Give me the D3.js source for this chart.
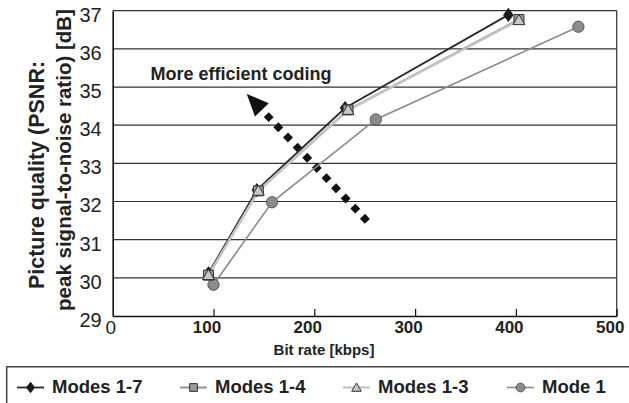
<!DOCTYPE html>
<html>
<head>
<meta charset="utf-8">
<script src="https://cdn.jsdelivr.net/npm/d3@7"></script>
<style>
  body { margin: 0; background: #fff; }
  text { font-family: "Liberation Sans", Arial, sans-serif; }
</style>
</head>
<body>
<div id="chart"></div>
<script>
var width = 629, height = 403;

// series
var seriesNames = ['Modes 1-7', 'Modes 1-4', 'Modes 1-3', 'Mode 1'];
var bitrate17 = [95, 143, 230.5, 392.5],  psnr17 = [30.12, 32.3, 34.45, 36.89];
var bitrate14 = [95, 144.5, 233.5, 403],  psnr14 = [30.07, 32.28, 34.4, 36.77];
var bitrate13 = [95, 144.5, 233.5, 403],  psnr13 = [30.07, 32.28, 34.4, 36.75];
var bitrate1  = [100, 158, 261, 462],     psnr1  = [29.82, 31.98, 34.15, 36.58];

var xTicks = [100, 200, 300, 400, 500];
var yTicks = [29, 30, 31, 32, 33, 34, 35, 36, 37];

// annotation arrow, tail -> tip in data units
var arrowFrom = [252.6, 31.48], arrowTo = [133, 34.82];

var x = d3.scaleLinear().domain([0, 500]).range([112.7, 616.7]);
var y = d3.scaleLinear().domain([29, 37]).range([316, 10.7]);

var svg = d3.select('#chart').append('svg')
  .attr('width', width).attr('height', height);

// gridlines
svg.append('g').selectAll('line').data(yTicks.slice(1)).enter().append('line')
  .attr('x1', x(0)).attr('x2', x(500))
  .attr('y1', d => y(d)).attr('y2', d => y(d))
  .attr('stroke', '#333').attr('stroke-width', 1.2);

// right border
svg.append('line')
  .attr('x1', x(500)).attr('x2', x(500)).attr('y1', y(37)).attr('y2', y(29))
  .attr('stroke', '#333').attr('stroke-width', 1.2);

// axes
var xAxis = svg.append('g').attr('transform', 'translate(0,' + y(29) + ')')
  .call(d3.axisBottom(x).tickValues(xTicks).tickSizeInner(-7).tickSizeOuter(0));
xAxis.select('.domain').attr('stroke', '#111').attr('stroke-width', 1.6);
xAxis.selectAll('.tick line').attr('stroke', '#111').attr('stroke-width', 1.2);
xAxis.selectAll('.tick text')
  .attr('font-family', '"Liberation Sans", Arial, sans-serif')
  .attr('font-size', 17).attr('font-weight', 'bold').attr('fill', '#222')
  .attr('x', -7).attr('y', 17).attr('dy', null);

var yAxis = svg.append('g').attr('transform', 'translate(' + x(0) + ',0)')
  .call(d3.axisLeft(y).tickValues(yTicks).tickSize(0).tickPadding(11));
yAxis.select('.domain').attr('stroke', '#111').attr('stroke-width', 1.6);
yAxis.selectAll('.tick text')
  .attr('font-family', '"Liberation Sans", Arial, sans-serif')
  .attr('font-size', 20).attr('fill', '#222')
  .attr('dy', '0.52em');

// the origin label sits apart from the other x labels
svg.append('text').attr('x', x(0) - 2).attr('y', 334)
  .attr('text-anchor', 'middle').attr('font-size', 19).attr('fill', '#222')
  .text('0');

// axis titles
svg.append('text').attr('x', 324).attr('y', 355)
  .attr('text-anchor', 'middle').attr('font-size', 15).attr('font-weight', 'bold').attr('fill', '#222')
  .text('Bit rate [kbps]');

var yTitle = svg.append('g').attr('transform', 'rotate(-90)');
yTitle.append('text').attr('x', -175).attr('y', 44)
  .attr('text-anchor', 'middle').attr('font-size', 21.5).attr('font-weight', 'bold').attr('fill', '#222')
  .text('Picture quality (PSNR:');
yTitle.append('text').attr('x', -160).attr('y', 71)
  .attr('text-anchor', 'middle').attr('font-size', 20.5).attr('font-weight', 'bold').attr('fill', '#222')
  .text('peak signal-to-noise ratio) [dB]');

// arrow annotation
var ax0 = x(arrowFrom[0]), ay0 = y(arrowFrom[1]), ax1 = x(arrowTo[0]), ay1 = y(arrowTo[1]);
var dx = ax1 - ax0, dy = ay1 - ay0, len = Math.sqrt(dx * dx + dy * dy);
var ux = dx / len, uy = dy / len, headLen = 22, headW = 9.5;
var bx = ax1 - ux * headLen, by = ay1 - uy * headLen;
svg.append('line')
  .attr('x1', ax0).attr('y1', ay0).attr('x2', bx + ux * 2).attr('y2', by + uy * 2)
  .attr('stroke', '#111').attr('stroke-width', 7).attr('stroke-dasharray', '7,7');
svg.append('path')
  .attr('d', 'M' + ax1 + ',' + ay1 +
    'L' + (bx - uy * headW) + ',' + (by + ux * headW) +
    'L' + (bx + uy * headW) + ',' + (by - ux * headW) + 'Z')
  .attr('fill', '#111');

svg.append('text').attr('x', 150.5).attr('y', 80)
  .attr('font-size', 18).attr('font-weight', 'bold').attr('fill', '#222')
  .text('More efficient coding');

// series lines and markers
var series = [
  {name: seriesNames[3], xs: bitrate1, ys: psnr1, line: '#8a8a8a', lw: 1.6, marker: 'circle', fill: '#8c8c8c', stroke: '#555'},
  {name: seriesNames[0], xs: bitrate17, ys: psnr17, line: '#2a2a2a', lw: 1.8, marker: 'diamond', fill: '#1a1a1a', stroke: '#1a1a1a'},
  {name: seriesNames[1], xs: bitrate14, ys: psnr14, line: '#999', lw: 2.2, marker: 'square', fill: '#999', stroke: '#333'},
  {name: seriesNames[2], xs: bitrate13, ys: psnr13, line: '#c4c4c4', lw: 2.2, marker: 'triangle', fill: '#c8c8c8', stroke: '#333'}
];

var symbolType = {circle: d3.symbolCircle, diamond: d3.symbolDiamond, square: d3.symbolSquare, triangle: d3.symbolTriangle};
var plotSize = {circle: 100, diamond: 55, square: 100, triangle: 60};

var line = d3.line().x(d => x(d[0])).y(d => y(d[1]));

series.forEach(function(s) {
  var pts = s.xs.map((v, i) => [v, s.ys[i]]);
  svg.append('path').datum(pts)
    .attr('d', line).attr('fill', 'none')
    .attr('stroke', s.line).attr('stroke-width', s.lw);
});
series.forEach(function(s) {
  var pts = s.xs.map((v, i) => [v, s.ys[i]]);
  svg.append('g').selectAll('path').data(pts).enter().append('path')
    .attr('d', d3.symbol().type(symbolType[s.marker]).size(plotSize[s.marker]))
    .attr('transform', d => 'translate(' + x(d[0]) + ',' + (y(d[1]) + (s.marker === 'triangle' ? 1 : 0)) + ')' +
      (s.marker === 'diamond' ? ' scale(1.15,0.9)' : ''))
    .attr('fill', s.fill).attr('stroke', s.stroke).attr('stroke-width', 1);
});

// legend
svg.append('path')
  .attr('d', 'M6.7,' + (height + 5) + 'V366.7H' + (width + 5))
  .attr('fill', 'none').attr('stroke', '#444').attr('stroke-width', 1.5);

var legendX = [17, 180, 343, 507];
var legendOrder = [series[1], series[2], series[3], series[0]];
var legendSize = {circle: 60, diamond: 35, square: 60, triangle: 40};
var lg = svg.append('g').selectAll('g').data(legendOrder).enter().append('g')
  .attr('transform', (d, i) => 'translate(' + legendX[i] + ',387.5)');
lg.append('line').attr('x1', 0).attr('x2', 27)
  .attr('stroke', d => d.line).attr('stroke-width', d => d.lw);
lg.append('path')
  .attr('d', d => d3.symbol().type(symbolType[d.marker]).size(legendSize[d.marker])())
  .attr('transform', d => 'translate(13.5,' + (d.marker === 'triangle' ? 1 : 0) + ')' + (d.marker === 'diamond' ? ' scale(1.2,0.9)' : ''))
  .attr('fill', d => d.fill).attr('stroke', d => d.stroke).attr('stroke-width', 1);
lg.append('text').attr('x', 35).attr('y', 5)
  .attr('font-size', 18.5).attr('font-weight', 'bold').attr('fill', '#222')
  .text(d => d.name);
</script>
</body>
</html>
